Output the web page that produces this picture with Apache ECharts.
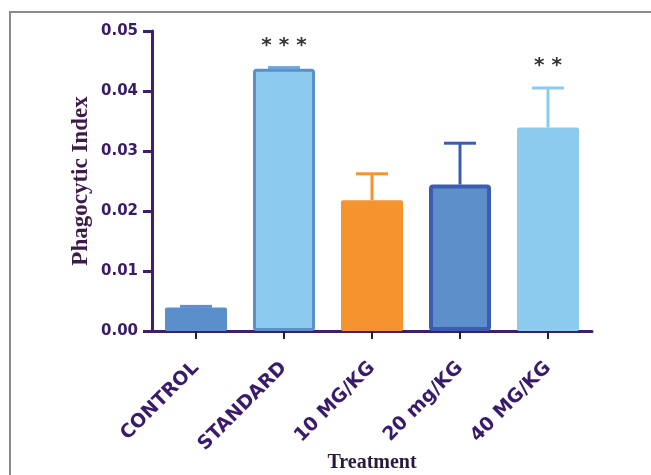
<!DOCTYPE html>
<html>
<head>
<meta charset="utf-8">
<script src="https://cdn.jsdelivr.net/npm/echarts@6/dist/echarts.min.js"></script>
<style>
html,body{margin:0;padding:0;background:#fff;}
#chart{width:651px;height:475px;}
</style>
</head>
<body>
<div id="chart"></div>
<script>
var categories = ["CONTROL", "STANDARD", "10 MG/KG", "20 mg/KG", "40 MG/KG"];
var means = [0.0039, 0.0437, 0.0218, 0.0244, 0.0339];
var upperErrors = [0.0041, 0.0439, 0.0262, 0.0313, 0.0405];
var significance = ["", "* * *", "", "", "* *"];
var yTicks = [0, 0.01, 0.02, 0.03, 0.04, 0.05];

var fills = ["#5b8fcb", "#8ccbef", "#f5932f", "#5d8fca", "#8dcbee"];
var borders = ["#5b8fcb", "#5b8fca", "#f5932f", "#3b5cb0", "#8dcbee"];
var borderWidths = [0, 3, 0, 4, 0];
var errColors = ["#5b8fcb", "#6fa6da", "#f5932f", "#3b5cb0", "#8dcbee"];

var axisColor = "#3d1f6e";
var labelColor = "#3a1a6b";

var chart = echarts.init(document.getElementById('chart'));

var barData = means.map(function (v, i) {
  return {
    value: v,
    itemStyle: {
      color: fills[i],
      borderColor: borders[i],
      borderWidth: borderWidths[i],
      borderRadius: 2
    }
  };
});

var errData = means.map(function (v, i) { return [i, v, upperErrors[i], i]; });

chart.setOption({
  animation: false,
  backgroundColor: '#ffffff',
  graphic: [{
    type: 'rect',
    shape: { x: 10, y: 12, width: 660, height: 480 },
    style: { fill: 'none', stroke: '#8a8a8a', lineWidth: 2 },
    silent: true
  }],
  grid: { left: 152, right: 59, top: 31, bottom: 144, containLabel: false, outerBoundsMode: 'none' },
  xAxis: {
    type: 'category',
    data: categories,
    name: 'Treatment',
    nameLocation: 'middle',
    nameGap: 122,
    nameMoveOverlap: false,
    nameTextStyle: {
      fontFamily: '"Liberation Serif", "Times New Roman", serif',
      fontWeight: 'bold', fontSize: 20, color: '#2a1a3a'
    },
    axisLine: { lineStyle: { color: axisColor, width: 3 } },
    axisTick: { show: true, alignWithLabel: true, length: 8, lineStyle: { color: '#222', width: 2 } },
    axisLabel: {
      rotate: 45, margin: 34, interval: 0,
      fontFamily: '"DejaVu Sans", Arial, sans-serif',
      fontWeight: 'bold', fontSize: 19, color: labelColor
    },
    splitLine: { show: false }
  },
  yAxis: {
    type: 'value',
    min: 0, max: 0.05, interval: 0.01,
    name: 'Phagocytic Index',
    nameLocation: 'middle',
    nameGap: 59,
    nameRotate: 90,
    nameMoveOverlap: false,
    nameTextStyle: {
      fontFamily: '"Liberation Serif", "Times New Roman", serif',
      fontWeight: 'bold', fontSize: 23, color: '#3c1a4a'
    },
    axisLine: { show: true, lineStyle: { color: axisColor, width: 3 } },
    axisTick: { show: true, inside: false, length: 9, lineStyle: { color: axisColor, width: 3, opacity: 1 } },
    axisLabel: {
      margin: 14,
      fontFamily: '"DejaVu Sans", Arial, sans-serif',
      fontWeight: 'bold', fontSize: 15, color: labelColor,
      formatter: function (v) { return v.toFixed(2); }
    },
    splitLine: { show: false }
  },
  series: [
    {
      type: 'bar',
      data: barData,
      barWidth: 62,
      z: 2
    },
    {
      type: 'custom',
      data: errData,
      z: 3,
      encode: { x: 0, y: [1, 2] },
      renderItem: function (params, api) {
        var idx = api.value(0);
        var base = api.coord([idx, api.value(1)]);
        var top = api.coord([idx, api.value(2)]);
        var c = errColors[api.value(3)];
        var half = 16;
        var children = [
          { type: 'line', shape: { x1: base[0], y1: base[1], x2: top[0], y2: top[1] }, style: { stroke: c, lineWidth: 3 } },
          { type: 'line', shape: { x1: top[0] - half, y1: top[1], x2: top[0] + half, y2: top[1] }, style: { stroke: c, lineWidth: 3 } }
        ];
        var sig = significance[api.value(3)];
        if (sig) {
          children.push({
            type: 'text',
            style: {
              text: sig, x: top[0], y: top[1] - 22,
              align: 'center', verticalAlign: 'middle',
              font: 'bold 20px "DejaVu Sans", Arial, sans-serif',
              fill: '#333333'
            }
          });
        }
        return { type: 'group', children: children };
      }
    }
  ]
});
</script>
</body>
</html>
